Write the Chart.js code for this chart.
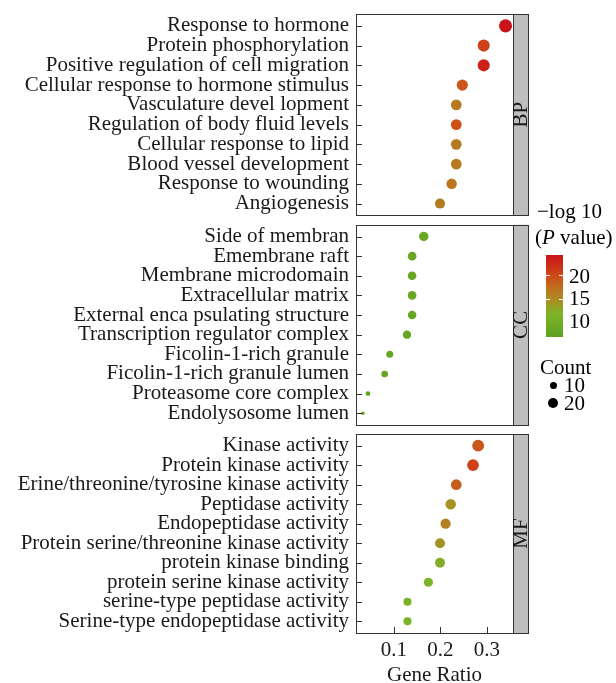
<!DOCTYPE html>
<html lang="en">
<head>
    <meta charset="UTF-8">
    <title>GO enrichment bubble chart</title>
    <script src="https://cdn.jsdelivr.net/npm/chart.js"></script>
    <style>
        body {
            margin: 0;
            background: #ffffff;
            font-family: "Liberation Serif", "Times New Roman", serif;
        }
        #wrap {
            position: relative;
            width: 616px;
            height: 683px;
        }
        #wrap canvas {
            position: absolute;
            left: 0;
        }
        .lg {
            position: absolute;
            font-size: 21px;
            line-height: 22px;
            color: #000;
            white-space: nowrap;
        }
        #colorBar {
            position: absolute;
            left: 546px;
            top: 255px;
            width: 17px;
            height: 82px;
        }
        .barTick {
            position: absolute;
            width: 4px;
            height: 1px;
            background: #ffffff;
        }
        .dot {
            position: absolute;
            background: #000;
            border-radius: 50%;
        }
    </style>
</head>
<body>
<div id="wrap">
    <canvas id="bpChart" width="616" height="222" style="top:0px"></canvas>
    <canvas id="ccChart" width="616" height="210" style="top:220px"></canvas>
    <canvas id="mfChart" width="616" height="255" style="top:428px"></canvas>

    <!-- colour legend -->
    <div class="lg" style="left:537px; top:200px;">&minus;log 10</div>
    <div class="lg" style="left:535px; top:226px;">(<i>P</i> value)</div>
    <div id="colorBar"></div>
    <div class="lg" style="left:569px; top:265px;">20</div>
    <div class="lg" style="left:569px; top:287px;">15</div>
    <div class="lg" style="left:569px; top:310px;">10</div>

    <!-- size legend -->
    <div class="lg" style="left:540px; top:356px;">Count</div>
    <div class="dot" id="dot10"></div>
    <div class="dot" id="dot20"></div>
    <div class="lg" style="left:564px; top:374px;">10</div>
    <div class="lg" style="left:564px; top:392px;">20</div>
</div>

<script>
    // Biological process
    const bpTerms = ['Response to hormone', 'Protein phosphorylation', 'Positive regulation of cell migration',
        'Cellular response to hormone stimulus', 'Vasculature devel lopment', 'Regulation of body fluid levels',
        'Cellular response to lipid', 'Blood vessel development', 'Response to wounding', 'Angiogenesis'];
    const bpRatio = [0.340, 0.293, 0.293, 0.247, 0.234, 0.234, 0.234, 0.234, 0.224, 0.199];
    const bpCount = [34, 29, 29, 25, 23, 23, 23, 23, 22, 20];
    const bpLogP = [24, 20.5, 22.8, 19, 16.5, 19.5, 16.5, 16.5, 16.8, 16.3];

    // Cellular component
    const ccTerms = ['Side of membran', 'Emembrane raft', 'Membrane microdomain', 'Extracellular matrix',
        'External enca psulating structure', 'Transcription regulator complex', 'Ficolin-1-rich granule',
        'Ficolin-1-rich granule lumen', 'Proteasome core complex', 'Endolysosome lumen'];
    const ccRatio = [0.164, 0.139, 0.139, 0.139, 0.139, 0.128, 0.091, 0.080, 0.044, 0.033];
    const ccCount = [18, 15, 15, 15, 15, 14, 10, 9, 5, 3];
    const ccLogP = [9.2, 8.8, 8.8, 8.8, 8.8, 8.6, 8.4, 8.4, 8, 8];

    // Molecular function
    const mfTerms = ['Kinase activity', 'Protein kinase activity', 'Erine/threonine/tyrosine kinase activity',
        'Peptidase activity', 'Endopeptidase activity', 'Protein serine/threonine kinase activity',
        'protein kinase binding', 'protein serine kinase activity', 'serine-type peptidase activity',
        'Serine-type endopeptidase activity'];
    const mfRatio = [0.281, 0.270, 0.234, 0.222, 0.211, 0.199, 0.199, 0.174, 0.129, 0.129];
    const mfCount = [28, 27, 23, 22, 21, 20, 20, 17, 13, 13];
    const mfLogP = [19, 20.5, 18.5, 14.5, 16, 14.5, 12.5, 12, 11.5, 11.5];

    const xTicks = [0.1, 0.2, 0.3];
    const xMin = 0.0183, xMax = 0.356;

    // colour scale for -log10(P)
    const colourStops = [
        [7.3, [94, 160, 32]],
        [12, [125, 180, 40]],
        [15, [172, 140, 35]],
        [17.5, [192, 110, 30]],
        [20, [208, 72, 22]],
        [24.1, [200, 18, 24]]
    ];
    const pMin = 7.3, pMax = 24.1;

    function colour(v) {
        if (v <= colourStops[0][0]) return 'rgb(' + colourStops[0][1].join(',') + ')';
        for (let i = 1; i < colourStops.length; i++) {
            const a = colourStops[i - 1], b = colourStops[i];
            if (v <= b[0]) {
                const t = (v - a[0]) / (b[0] - a[0]);
                const c = a[1].map((x, k) => Math.round(x + (b[1][k] - x) * t));
                return 'rgb(' + c.join(',') + ')';
            }
        }
        return 'rgb(' + colourStops[colourStops.length - 1][1].join(',') + ')';
    }

    // point radius from count (area scaling)
    function radius(c) {
        return Math.sqrt(Math.max(1.275 * c - 0.5, 1.5));
    }

    const FONT = '"Liberation Serif", "Times New Roman", serif';

    // frame, inward ticks and grey strip on the right
    const panelPlugin = {
        id: 'panelFrame',
        afterDraw(chart, args, opts) {
            const ctx = chart.ctx;
            const a = chart.chartArea;
            const yScale = chart.scales.y;
            const xScale = chart.scales.x;
            ctx.save();
            ctx.strokeStyle = '#333333';
            ctx.lineWidth = 1;
            // y ticks pointing in
            ctx.beginPath();
            opts.terms.forEach((t, i) => {
                const y = Math.round(yScale.getPixelForValue(i)) + 0.5;
                ctx.moveTo(a.left, y);
                ctx.lineTo(a.left + 6, y);
            });
            if (opts.showX) {
                xTicks.forEach(v => {
                    const x = Math.round(xScale.getPixelForValue(v)) + 0.5;
                    ctx.moveTo(x, a.bottom);
                    ctx.lineTo(x, a.bottom - 6);
                });
            }
            ctx.stroke();
            // strip
            const sx = a.right, sw = 15;
            ctx.fillStyle = '#bebebe';
            ctx.fillRect(sx, a.top, sw, a.bottom - a.top);
            ctx.strokeRect(Math.round(sx) + 0.5, Math.round(a.top) + 0.5, sw, Math.round(a.bottom - a.top));
            ctx.strokeRect(Math.round(a.left) + 0.5, Math.round(a.top) + 0.5,
                Math.round(a.right - a.left), Math.round(a.bottom - a.top));
            ctx.translate(sx + sw / 2 + 1, (a.top + a.bottom) / 2);
            ctx.rotate(-Math.PI / 2);
            ctx.fillStyle = '#1a1a1a';
            ctx.font = '21px ' + FONT;
            ctx.textAlign = 'center';
            ctx.textBaseline = 'middle';
            ctx.fillText(opts.name, 0, 0);
            ctx.restore();
        }
    };

    function makePanel(id, name, terms, ratio, count, logp, padTop, showX) {
        return new Chart(document.getElementById(id), {
            type: 'scatter',
            data: {
                datasets: [{
                    data: ratio.map((r, i) => ({ x: r, y: i })),
                    pointRadius: c => radius(count[c.dataIndex]),
                    pointHoverRadius: c => radius(count[c.dataIndex]),
                    pointBackgroundColor: c => colour(logp[c.dataIndex]),
                    pointBorderWidth: 0
                }]
            },
            options: {
                responsive: false,
                animation: false,
                layout: { padding: { top: padTop, bottom: showX ? 0 : 5, left: 0, right: 103 } },
                plugins: {
                    legend: { display: false },
                    tooltip: { enabled: false },
                    panelFrame: { name: name, terms: terms, showX: showX }
                },
                scales: {
                    x: {
                        type: 'linear',
                        min: xMin,
                        max: xMax,
                        display: showX,
                        afterBuildTicks: s => { s.ticks = xTicks.map(v => ({ value: v })); },
                        afterFit: s => {
                            s.height = showX ? 50 : 0;
                            s.paddingLeft = 0;
                            s.paddingRight = 0;
                        },
                        ticks: {
                            callback: v => v.toFixed(1),
                            color: '#1a1a1a',
                            font: { family: FONT, size: 21 },
                            padding: 5,
                            maxRotation: 0
                        },
                        grid: { display: false, drawTicks: false },
                        border: { display: false },
                        title: {
                            display: true,
                            text: 'Gene Ratio',
                            color: '#1a1a1a',
                            font: { family: FONT, size: 21, lineHeight: 1 },
                            padding: { top: 0, bottom: -3 }
                        }
                    },
                    y: {
                        type: 'linear',
                        reverse: true,
                        min: -0.6,
                        max: 9.6,
                        afterBuildTicks: s => { s.ticks = terms.map((t, i) => ({ value: i })); },
                        afterFit: s => {
                            s.width = 356;
                            s.paddingTop = 0;
                            s.paddingBottom = 0;
                        },
                        ticks: {
                            callback: v => terms[v],
                            autoSkip: false,
                            color: '#1a1a1a',
                            font: { family: FONT, size: 21 },
                            padding: 7
                        },
                        grid: { display: false, drawTicks: false },
                        border: { display: false }
                    }
                }
            },
            plugins: [panelPlugin]
        });
    }

    makePanel('bpChart', 'BP', bpTerms, bpRatio, bpCount, bpLogP, 14, false);
    makePanel('ccChart', 'CC', ccTerms, ccRatio, ccCount, ccLogP, 2.5, false);
    makePanel('mfChart', 'MF', mfTerms, mfRatio, mfCount, mfLogP, 2.5, true);

    // colour bar legend
    const bar = document.getElementById('colorBar');
    const grad = colourStops.map(s => colour(s[0]) + ' ' + ((s[0] - pMin) / (pMax - pMin) * 100).toFixed(1) + '%');
    bar.style.background = 'linear-gradient(to top, ' + grad.join(', ') + ')';
    [20, 15].forEach(v => {
        const y = (pMax - v) / (pMax - pMin) * 82;
        ['0px', '13px'].forEach(left => {
            const t = document.createElement('div');
            t.className = 'barTick';
            t.style.left = left;
            t.style.top = y.toFixed(1) + 'px';
            bar.appendChild(t);
        });
    });

    // size legend dots
    [['dot10', 10, 385], ['dot20', 20, 403]].forEach(d => {
        const r = radius(d[1]);
        const el = document.getElementById(d[0]);
        el.style.width = el.style.height = (2 * r) + 'px';
        el.style.left = (553 - r) + 'px';
        el.style.top = (d[2] - r) + 'px';
    });
</script>
</body>
</html>
